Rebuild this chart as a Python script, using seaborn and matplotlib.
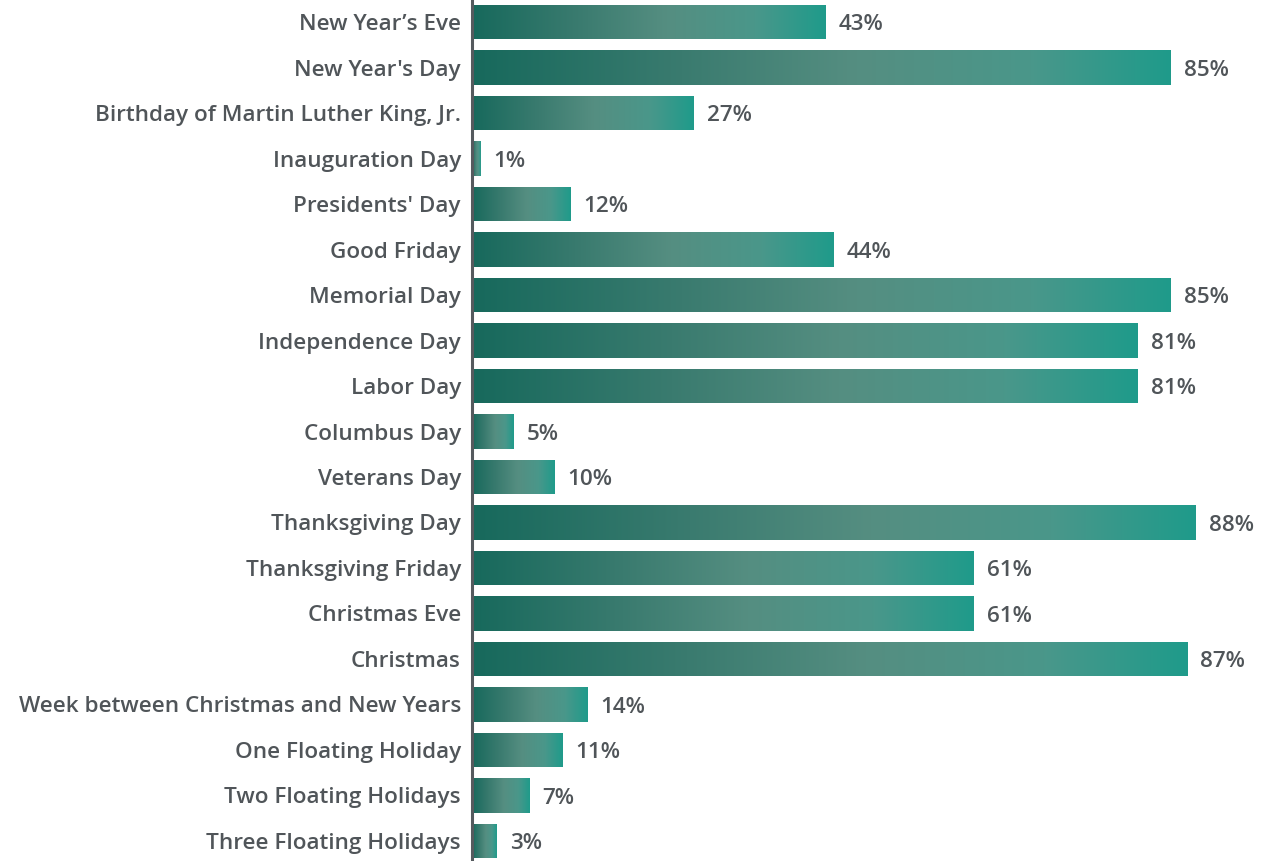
import matplotlib
matplotlib.use("Agg")
import matplotlib.pyplot as plt
import seaborn as sns
import numpy as np
import pandas as pd
from matplotlib.colors import LinearSegmentedColormap

categories = ["New Year\u2019s Eve", "New Year's Day", "Birthday of Martin Luther King, Jr.",
              "Inauguration Day", "Presidents' Day", "Good Friday", "Memorial Day",
              "Independence Day", "Labor Day", "Columbus Day", "Veterans Day",
              "Thanksgiving Day", "Thanksgiving Friday", "Christmas Eve", "Christmas",
              "Week between Christmas and New Years", "One Floating Holiday",
              "Two Floating Holidays", "Three Floating Holidays"]
values = [43, 85, 27, 1, 12, 44, 85, 81, 81, 5, 10, 88, 61, 61, 87, 14, 11, 7, 3]
value_labels = [f"{v}%" for v in values]

df = pd.DataFrame({"holiday": categories, "pct": values})

sns.set_theme(style="white")
plt.rcParams['font.family'] = ['Open Sans', 'DejaVu Sans']

fig = plt.figure(figsize=(12.66, 8.61), dpi=100)
ax = fig.add_axes([472/1266, 0, 1 - 472/1266, 1])

sns.barplot(data=df, y="holiday", x="pct", orient="h", ax=ax, width=0.75,
            color="#2a8a7c", saturation=1)

cmap = LinearSegmentedColormap.from_list(
    "tealgrad", [(0, "#17695c"), (0.3, "#3a7b6f"), (0.55, "#558e81"), (0.8, "#4a978a"), (1, "#1f9b8b")])
grad = np.linspace(0, 1, 256).reshape(1, -1)

text_color = "#505559"
fs = 16.2
for patch, lab in zip(ax.patches, value_labels):
    x0, y0 = patch.get_x(), patch.get_y()
    w, h = patch.get_width(), patch.get_height()
    im = ax.imshow(grad, cmap=cmap, aspect="auto", extent=[x0, x0 + w, y0 + h, y0],
                   zorder=2, interpolation="bicubic")
    im.set_clip_path(patch)
    patch.set_facecolor("none")
    patch.set_edgecolor("none")
    ax.text(x0 + w + 1.6, y0 + h / 2 + 0.06, lab, va="center", ha="left",
            fontsize=fs, color=text_color, fontweight="semibold")

ax.set_xlim(0, (1266 - 472) / 8.22)
ax.set_ylim(18.44, -0.484)
ax.set_xlabel("")
ax.set_ylabel("")
ax.set_xticks([])
ax.tick_params(axis="y", length=0, pad=8, labelsize=fs, labelcolor=text_color)
for t in ax.get_yticklabels():
    t.set_fontweight("semibold")
for s in ["top", "right", "bottom"]:
    ax.spines[s].set_visible(False)
ax.spines["left"].set_color("#555a5e")
ax.spines["left"].set_linewidth(2.2)
ax.spines["left"].set_zorder(5)

fig.savefig("out.png", dpi=100)
